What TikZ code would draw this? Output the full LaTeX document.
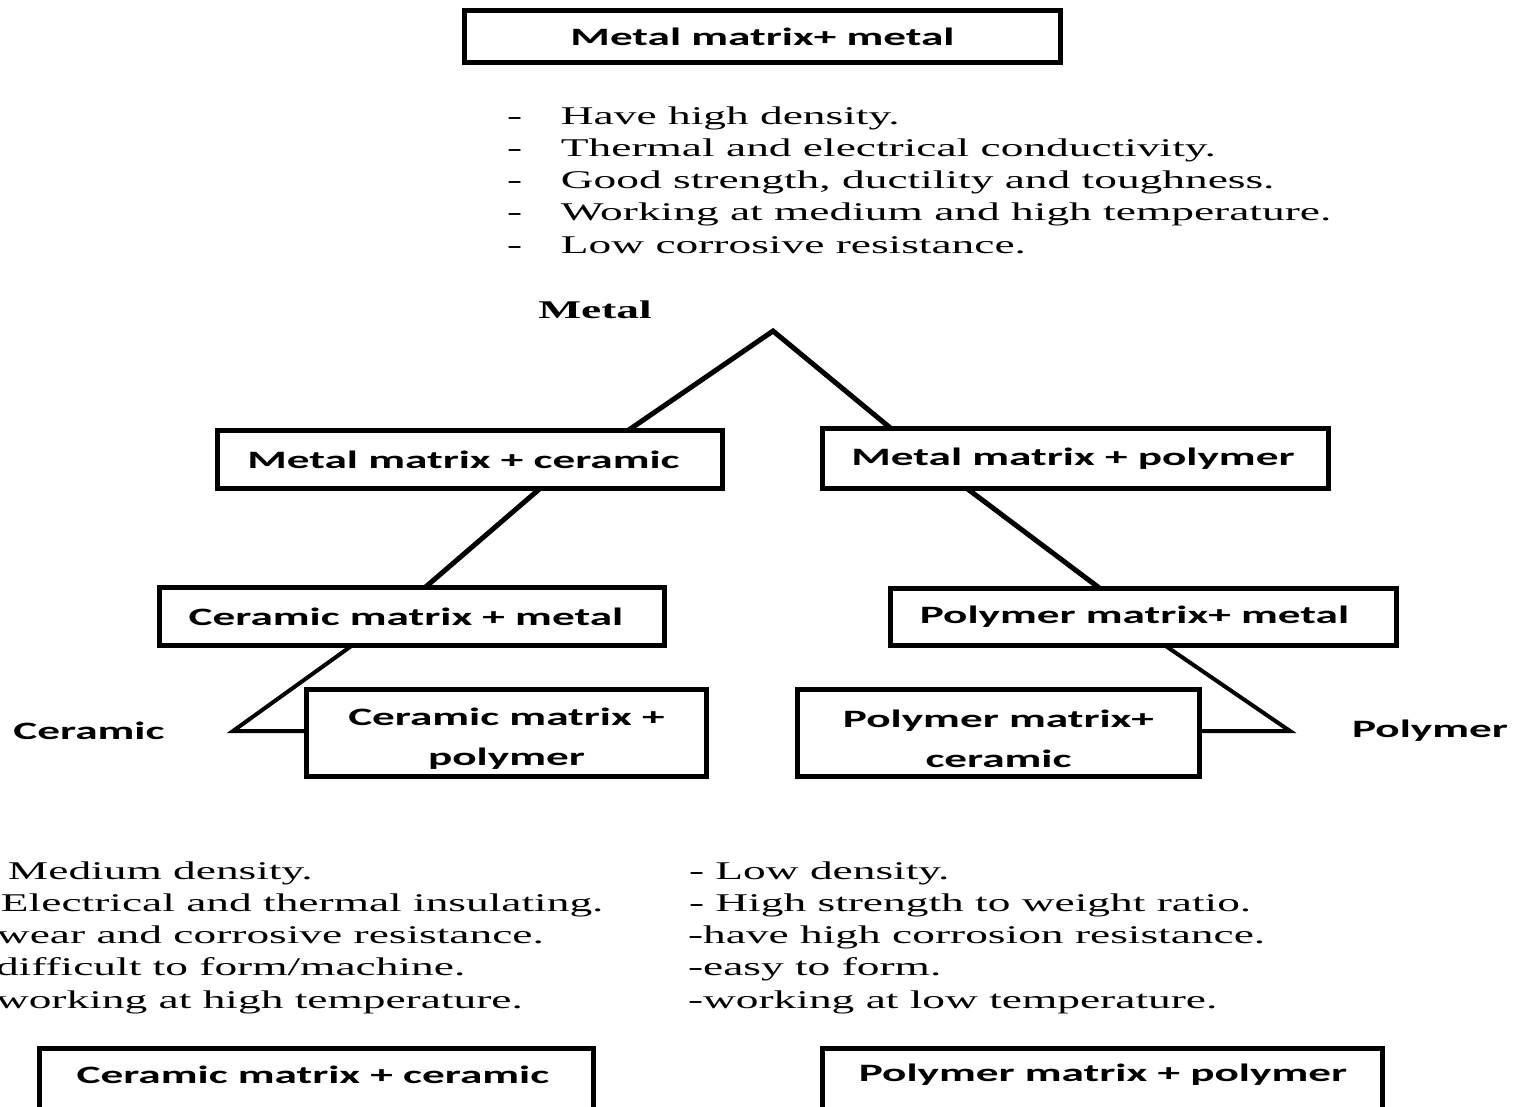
\documentclass[tikz,border=0pt]{standalone}
\usepackage{fontspec}
% Wide-set faces: Times-like serif for the lists, Calibri-like sans for the boxes
\newfontfamily\bodyserif{Liberation Serif}[FakeStretch=1.78]
\newfontfamily\boxsans{Carlito}[FakeStretch=1.81]
\begin{document}
\begin{tikzpicture}[x=1pt,y=-1pt,
  every node/.style={inner sep=0pt, outer sep=0pt},
  boxfont/.style={font=\boxsans\bfseries\fontsize{25}{40}\selectfont},
  box/.style={boxfont, draw, line width=5pt, rectangle, align=center},
  % text in the boxes sits a little left of centre
  padright/.style={execute at end node={\hspace*{#1}}},
  boxline/.style={line width=5pt},
  listfont/.style={font=\bodyserif\fontsize{25.5}{32}\selectfont, anchor=base west},
  conn/.style={line width=5pt, line join=miter},
  tipconn/.style={line width=4pt, line join=miter, miter limit=20},
]
\useasboundingbox (0,0) rectangle (1523,1106);
\clip (0,0) rectangle (1523,1106);

% ---- top: metal matrix + metal and its properties
\node[box, minimum width=596pt, minimum height=52pt] (mmm) at (762.5,36.5) {Metal matrix+ metal};

\foreach \t [count=\i from 0] in {Have high density.,
    Thermal and electrical conductivity.,
    {Good strength, ductility and toughness.},
    Working at medium and high temperature.,
    Low corrosive resistance.}
  \node[listfont] (ml\i) at (507,124+32.25*\i) {\makebox[54pt][l]{-}\t};

\node[font=\bodyserif\bfseries\fontsize{25.5}{30}\selectfont] (metal) at (595,310) {Metal};

% ---- the triangle of composites
\node[box, padright=13pt, minimum width=505pt, minimum height=58pt] (mmc) at (470,459.5) {Metal matrix + ceramic};
\node[box, padright=5pt, minimum width=506pt, minimum height=60pt] (mmp) at (1075.5,458.5) {Metal matrix + polymer};
\node[box, padright=12pt, minimum width=505pt, minimum height=58pt] (cmm) at (412,616.5) {Ceramic matrix + metal};
\node[box, padright=18pt, minimum width=506pt, minimum height=57pt] (pmm) at (1143.5,617) {Polymer matrix+ metal};
\node[box, minimum width=400pt, minimum height=87pt] (cmp) at (506.5,733) {\rule{0pt}{29pt}Ceramic matrix +\\polymer};
\node[box, minimum width=402pt, minimum height=87pt] (pmc) at (998.5,733) {\rule{0pt}{29pt}Polymer matrix+\\ceramic};

\node[boxfont] (ceramic) at (89,731) {Ceramic};
\node[boxfont] (polymer) at (1430,731) {Polymer};

\coordinate (apex) at (773,331);
\coordinate (cv) at (233,731);
\coordinate (pv) at (1290,731);

\draw[conn] ([xshift=158pt]mmc.north) -- (apex) -- ([xshift=-184.5pt]mmp.north);
\draw[conn] ([xshift=70pt]mmc.south) -- ([xshift=13pt]cmm.north);
\draw[conn] ([xshift=-108.5pt]mmp.south) -- ([xshift=-43.5pt]pmm.north);
\draw[tipconn] ([xshift=-60pt]cmm.south) -- (cv) -- (cv -| cmp.west);
\draw[tipconn] ([xshift=21.5pt]pmm.south) -- (pv) -- (pv -| pmc.east);

% ---- ceramic properties (left) and polymer properties (right)
\node[listfont] (cl0) at (8,879) {Medium density.};
\node[listfont] (cl1) at (1,911.25) {Electrical and thermal insulating.};
\node[listfont] (cl2) at (-3,943.5) {wear and corrosive resistance.};
\node[listfont] (cl3) at (-4,975.75) {difficult to form/machine.};
\node[listfont] (cl4) at (-4,1008) {working at high temperature.};

\node[listfont] (pl0) at (689,879) {- Low density.};
\node[listfont] (pl1) at (689,911.25) {- High strength to weight ratio.};
\node[listfont] (pl2) at (688,943.5) {-have high corrosion resistance.};
\node[listfont] (pl3) at (688,975.75) {-easy to form.};
\node[listfont] (pl4) at (688,1008) {-working at low temperature.};

% ---- bottom boxes, running past the lower edge
\node[boxfont] (cmc) at (313,1075) {Ceramic matrix + ceramic};
\draw[boxline] (39.5,1130) |- (593.5,1048.5) -- (593.5,1130);
\node[boxfont] (pmp) at (1103,1075) {Polymer matrix + polymer};
\draw[boxline] (822.5,1130) |- (1382.5,1048.5) -- (1382.5,1130);
\end{tikzpicture}
\end{document}
